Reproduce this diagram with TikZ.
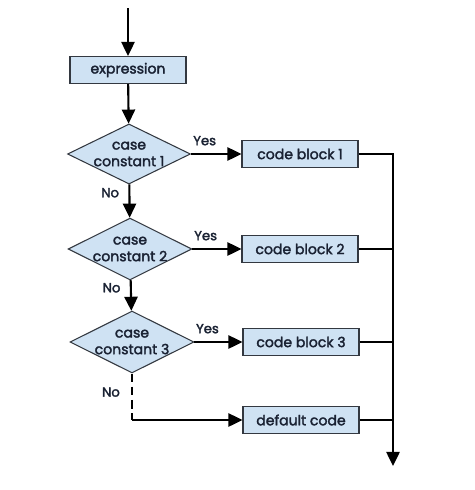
\documentclass[tikz,border=0pt]{standalone}
\usepackage{fontspec}
\setmainfont{Poppins}[FakeBold=2.2]
\usetikzlibrary{arrows.meta,shapes.geometric}
\definecolor{boxfill}{HTML}{CFE2F3}
\definecolor{boxline}{HTML}{333840}
\definecolor{ink}{HTML}{1A2233}
\tikzset{
  flow/.style={-{Triangle[length=8pt,width=7.5pt]},line width=1.2pt},
  rail/.style={line width=1.2pt},
  block/.style={draw=boxline,fill=boxfill,line width=0.6pt,minimum width=2.32cm,minimum height=0.54cm,inner sep=0pt,text=ink,font=\fontsize{8}{9}\selectfont},
  decide/.style={diamond,draw=boxline,fill=boxfill,line width=0.6pt,aspect=2,inner sep=0pt,minimum width=2.46cm,minimum height=1.2cm,align=center,text=ink,font=\fontsize{8}{9.5}\selectfont},
  tag/.style={text=ink,font=\fontsize{7.5}{9}\selectfont}
}

\begin{document}
\begin{tikzpicture}[x=0.02cm,y=-0.02cm]
    \useasboundingbox (0,0) rectangle (474,490);
    \coordinate (start) at (128,8);
    \node[block] (expr) at (128,70) {expression};

    \node[decide] (case1) at (129,154) {case\\constant 1};
    \node[decide] (case2) at (130,249) {case\\constant 2};
    \node[decide] (case3) at (132,342) {case\\constant 3};

    \node[block] (code1) at (300,154) {code block 1};
    \node[block] (code2) at (300,249) {code block 2};
    \node[block] (code3) at (301,342) {code block 3};
    \node[block] (default) at (301,420) {default code};

    \coordinate (exit) at (393,466);
    \coordinate (bend) at (case3.south |- default);

    \draw[flow] (start) -- (expr);
    \draw[flow] (expr) -- (case1);
    \draw[flow] (case1) -- node[tag,pos=0.25,left=2pt] {No} (case2);
    \draw[flow] (case2) -- node[tag,pos=0.25,left=2pt] {No} (case3);
    \draw[flow] (case1) -- node[tag,pos=0.27,above=1pt] {Yes} (code1);
    \draw[flow] (case2) -- node[tag,pos=0.27,above=1pt] {Yes} (code2);
    \draw[flow] (case3) -- node[tag,pos=0.27,above=1pt] {Yes} (code3);
    \draw[rail,dashed,dash pattern=on 5pt off 2.5pt] (case3.south) -- node[tag,pos=0.4,left=3pt] {No} (bend);
    \draw[flow] (bend) -- (default);

    \draw[flow] (code1.east) -| (exit);
    \draw[rail] (code2.east) -- (code2.east -| exit);
    \draw[rail] (code3.east) -- (code3.east -| exit);
    \draw[rail] (default.east) -- (default.east -| exit);
  \end{tikzpicture}
\end{document}
